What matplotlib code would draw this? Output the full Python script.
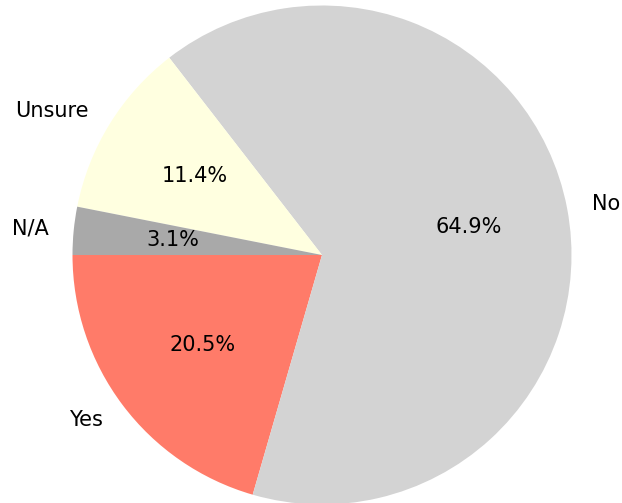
import matplotlib.pyplot as plt

# Survey answers, share of respondents in percent
labels = ["Yes", "No", "Unsure", "N/A"]
shares = [20.5, 64.9, 11.4, 3.1]
colors = ["#FF7B69", "#D3D3D3", "#FFFFE0", "#A9A9A9"]


def pct_label(values):
    """Return an autopct callback that prints each stated share."""
    it = iter(values)
    return lambda pct: f"{next(it):.1f}%"


def main():
    fig = plt.figure(figsize=(6.22, 5.03), dpi=100)
    ax = fig.add_axes([0, 0, 1, 1])

    ax.pie(
        shares,
        labels=labels,
        colors=colors,
        startangle=180,
        autopct=pct_label(shares),
        textprops={"fontsize": 15},
    )

    # Place the pie: centre and radius in figure pixels
    scale = 249.5
    cx, cy = 322, 503 - 255
    ax.set_xlim(-cx / scale, (622 - cx) / scale)
    ax.set_ylim(-cy / scale, (503 - cy) / scale)
    ax.set_aspect("auto")
    ax.axis("off")

    fig.savefig("out.png", dpi=100)


if __name__ == "__main__":
    main()
